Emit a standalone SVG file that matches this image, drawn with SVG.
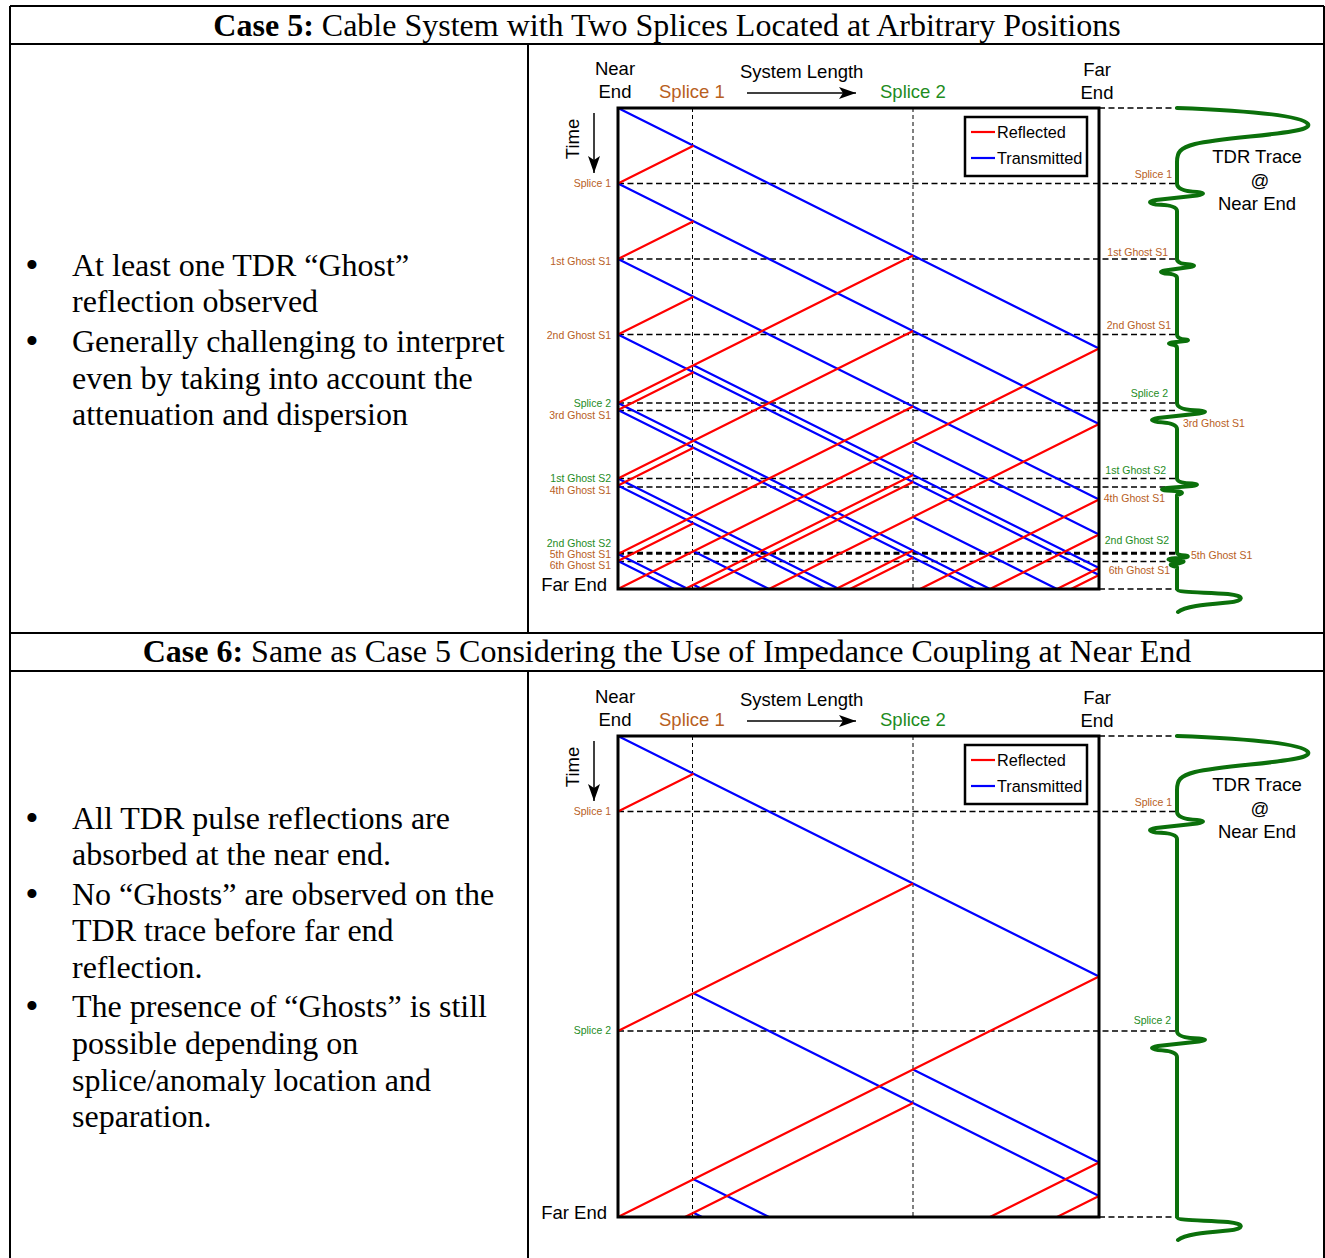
<svg xmlns="http://www.w3.org/2000/svg" width="1325" height="1258" viewBox="0 0 1325 1258">
<style>
.tb{stroke:#000;stroke-width:2;fill:none}
.serif{font-family:"Liberation Serif","Times New Roman",serif;font-size:32px;fill:#000}
.bul{font-size:38px}
.sans{font-family:"Liberation Sans",Arial,sans-serif;fill:#000}
.big{font-size:18.5px}
.leg{font-size:16.3px}
.sm{font-size:10.5px}
.br{fill:#B8601E}
.gr{fill:#1E8C1E}
.r{stroke:#f00;stroke-width:2.2;fill:none}
.b{stroke:#00f;stroke-width:2.2;fill:none}
.dh{stroke:#000;stroke-width:1.4;stroke-dasharray:6 3.5;fill:none}
.dv{stroke:#000;stroke-width:1;stroke-dasharray:4 3;fill:none}
.box{fill:none;stroke:#000;stroke-width:3}
.trace{fill:none;stroke:#0B700B;stroke-width:4;stroke-linejoin:round;stroke-linecap:round}
.ar{stroke:#000;stroke-width:1.5;fill:none}
</style>
<defs>
<marker id="ah" markerUnits="userSpaceOnUse" markerWidth="18" markerHeight="12" refX="17" refY="6" orient="auto">
<path d="M0,0 L17,6 L0,12 L4,6 z" fill="#000"/>
</marker>
</defs>

<g id="table">
<path class="tb" d="M10,6 H1324 M10,6 V1258 M1324,6 V1258 M10,44 H1324 M10,633 H1324 M10,671 H1324 M528,44 V633 M528,671 V1258"/>
<text class="serif" x="667" y="36" text-anchor="middle"><tspan font-weight="bold">Case 5:</tspan> Cable System with Two Splices Located at Arbitrary Positions</text>
<text class="serif" x="667" y="662" text-anchor="middle"><tspan font-weight="bold">Case 6:</tspan> Same as Case 5 Considering the Use of Impedance Coupling at Near End</text>
</g>

<g id="case5-text" class="serif">
<text class="bul" x="32" y="278" text-anchor="middle">•</text>
<text x="72" y="276">At least one TDR “Ghost”</text>
<text x="72" y="312">reflection observed</text>
<text class="bul" x="32" y="354" text-anchor="middle">•</text>
<text x="72" y="352">Generally challenging to interpret</text>
<text x="72" y="389">even by taking into account the</text>
<text x="72" y="425">attenuation and dispersion</text>
</g>

<g id="case6-text" class="serif">
<text class="bul" x="32" y="831" text-anchor="middle">•</text>
<text x="72" y="829">All TDR pulse reflections are</text>
<text x="72" y="865">absorbed at the near end.</text>
<text class="bul" x="32" y="907" text-anchor="middle">•</text>
<text x="72" y="905">No “Ghosts” are observed on the</text>
<text x="72" y="941">TDR trace before far end</text>
<text x="72" y="978">reflection.</text>
<text class="bul" x="32" y="1019" text-anchor="middle">•</text>
<text x="72" y="1017">The presence of “Ghosts” is still</text>
<text x="72" y="1054">possible depending on</text>
<text x="72" y="1091">splice/anomaly location and</text>
<text x="72" y="1127">separation.</text>
</g>

<!-- ===== CASE 5 DIAGRAM ===== -->
<g id="case5-header" class="sans big">
<text x="615" y="75" text-anchor="middle">Near</text>
<text x="615" y="98" text-anchor="middle">End</text>
<text x="659" y="98" class="br">Splice 1</text>
<text x="740" y="78">System Length</text>
<text x="880" y="98" class="gr">Splice 2</text>
<text x="1097" y="76" text-anchor="middle">Far</text>
<text x="1097" y="99" text-anchor="middle">End</text>
<text transform="translate(579,139) rotate(-90)" text-anchor="middle">Time</text>
<text x="607" y="591" text-anchor="end">Far End</text>
</g>
<g id="case5-arrows">
<line class="ar" x1="747" y1="93" x2="856" y2="93" marker-end="url(#ah)"/>
<line class="ar" x1="594" y1="113" x2="594" y2="173" marker-end="url(#ah)"/>
</g>

<g id="case5-guides">
<line class="dv" x1="692.5" y1="108" x2="692.5" y2="589"/>
<line class="dv" x1="913" y1="108" x2="913" y2="589"/>
<path class="dh" d="M1099,108 H1177 M618,183.5 H1177 M618,259 H1177 M618,334.5 H1177 M618,403 H1177 M618,410.5 H1177 M618,478.5 H1177 M618,487 H1177 M618,552.5 H1177 M618,554 H1177 M618,561.5 H1177 M1099,589 H1177"/>
</g>

<g id="case5-connectors">
<path class="b" d="M618,108 L1099,348.5 M618,183.5 L1099,424 M618,259 L1099,499.5 M618,334.5 L1099,575 M693.5,365.25 L1099,568 M913,441.5 L1099,534.5 M618,403 L990,589 M618,410 L976,589 M913,517 L1057,589 M618,478.5 L839,589 M618,485.5 L825,589 M693.5,551.25 L769,589 M693.5,584.75 L702,589 M618,554 L688,589 M618,561 L674,589"/>
<path class="r" d="M693.5,145.75 L618,183.5 M693.5,221.25 L618,259 M693.5,296.75 L618,334.5 M913,255.5 L618,403 M1099,348.5 L618,589 M693.5,372.25 L618,410 M913,331 L618,478.5 M913,406.5 L618,554 M1099,424 L769,589 M913,475 L685,589 M913,482 L699,589 M693.5,447.75 L618,485.5 M913,550.5 L836,589 M913,557.5 L850,589 M1099,499.5 L920,589 M1099,534.5 L990,589 M1099,568 L1057,589 M1099,575 L1071,589 M693.5,523.25 L618,561"/>
</g>
<rect id="case5-box" class="box" x="618" y="108" width="481" height="481"/>

<g id="case5-legend">
<rect x="965" y="117" width="122" height="59" fill="#fff" stroke="#000" stroke-width="2.5"/>
<line x1="971" y1="132" x2="995" y2="132" stroke="#f00" stroke-width="2.2"/>
<line x1="971" y1="158" x2="995" y2="158" stroke="#00f" stroke-width="2.2"/>
<text class="sans leg" x="997" y="138">Reflected</text>
<text class="sans leg" x="997" y="164">Transmitted</text>
</g>

<g id="case5-left-labels" class="sans sm" text-anchor="end">
<text x="611" y="187" class="br">Splice 1</text>
<text x="611" y="265" class="br">1st Ghost S1</text>
<text x="611" y="339" class="br">2nd Ghost S1</text>
<text x="611" y="407" class="gr">Splice 2</text>
<text x="611" y="419" class="br">3rd Ghost S1</text>
<text x="611" y="482" class="gr">1st Ghost S2</text>
<text x="611" y="494" class="br">4th Ghost S1</text>
<text x="611" y="547" class="gr">2nd Ghost S2</text>
<text x="611" y="558" class="br">5th Ghost S1</text>
<text x="611" y="569" class="br">6th Ghost S1</text>
</g>

<g id="case5-right-labels" class="sans sm">
<text x="1172" y="178" text-anchor="end" class="br">Splice 1</text>
<text x="1168" y="256" text-anchor="end" class="br">1st Ghost S1</text>
<text x="1171" y="329" text-anchor="end" class="br">2nd Ghost S1</text>
<text x="1168" y="397" text-anchor="end" class="gr">Splice 2</text>
<text x="1183" y="427" class="br">3rd Ghost S1</text>
<text x="1166" y="474" text-anchor="end" class="gr">1st Ghost S2</text>
<text x="1165" y="502" text-anchor="end" class="br">4th Ghost S1</text>
<text x="1169" y="544" text-anchor="end" class="gr">2nd Ghost S2</text>
<text x="1191" y="559" class="br">5th Ghost S1</text>
<text x="1170" y="574" text-anchor="end" class="br">6th Ghost S1</text>
</g>

<g id="case5-trace">
<path class="trace" d="M1177,108 C1230,110 1300,114 1308,124 C1314,134 1230,136 1195,144 C1180,148 1177,152 1177,162 L1177,183.5 Q1177,191 1197,192 Q1209,193 1197,195.5 L1156,200 Q1144,202 1156,204.5 Q1177,205 1177,211 L1177,259 Q1177,264 1190,264.5 Q1198,265.5 1190,267 L1165,270.5 Q1157,272 1165,273.5 Q1177,274 1177,278 L1177,334.5 Q1177,339 1185,339.5 Q1191,340 1185,341 L1172,342.5 Q1166,343.5 1172,344.5 Q1177,345 1177,348 L1177,403 Q1177,410 1199,410.5 Q1211,411.5 1199,413.5 L1158,418 Q1146,420 1158,422 Q1177,423 1177,429 L1177,478.5 Q1177,483 1192,483.5 Q1202,484.5 1192,486 L1167,488 Q1157,489.5 1167,490.5 Q1177,491 1181,492 Q1184,493.5 1177,495 L1177,553 Q1177,555 1185,555.5 Q1191,556.5 1184,557.5 L1172,558.5 Q1165,559.5 1172,560 Q1186,560.5 1183,562 Q1180,563.5 1172,564 Q1168,565 1177,567 L1177,589 C1177,593 1205,592 1228,594 C1246,596 1244,601 1228,602.5 C1205,604.5 1185,606 1178,612"/>
<text class="sans big" x="1257" y="163" text-anchor="middle">TDR Trace</text>
<text class="sans big" x="1260" y="187" text-anchor="middle">@</text>
<text class="sans big" x="1257" y="210" text-anchor="middle">Near End</text>
</g>

<!-- ===== CASE 6 DIAGRAM ===== -->
<g id="case6-header" class="sans big">
<text x="615" y="703" text-anchor="middle">Near</text>
<text x="615" y="726" text-anchor="middle">End</text>
<text x="659" y="726" class="br">Splice 1</text>
<text x="740" y="706">System Length</text>
<text x="880" y="726" class="gr">Splice 2</text>
<text x="1097" y="704" text-anchor="middle">Far</text>
<text x="1097" y="727" text-anchor="middle">End</text>
<text transform="translate(579,767) rotate(-90)" text-anchor="middle">Time</text>
<text x="607" y="1219" text-anchor="end">Far End</text>
</g>
<g id="case6-arrows">
<line class="ar" x1="747" y1="721" x2="856" y2="721" marker-end="url(#ah)"/>
<line class="ar" x1="594" y1="741" x2="594" y2="801" marker-end="url(#ah)"/>
</g>

<g id="case6-guides">
<line class="dv" x1="692.5" y1="736" x2="692.5" y2="1217"/>
<line class="dv" x1="913" y1="736" x2="913" y2="1217"/>
<path class="dh" d="M1099,736 H1177 M618,811.5 H1177 M618,1031 H1177 M1099,1217 H1177"/>
</g>

<g id="case6-connectors">
<path class="b" d="M618,736 L1099,976.5 M693.5,993.25 L1099,1196 M913,1069.5 L1099,1162.5 M693.5,1179.25 L769,1217 M693.5,1212.75 L702,1217"/>
<path class="r" d="M693.5,773.75 L618,811.5 M913,883.5 L618,1031 M1099,976.5 L618,1217 M913,1103 L685,1217 M1099,1162.5 L990,1217 M1099,1196 L1057,1217"/>
</g>
<rect id="case6-box" class="box" x="618" y="736" width="481" height="481"/>

<g id="case6-legend">
<rect x="965" y="745" width="122" height="59" fill="#fff" stroke="#000" stroke-width="2.5"/>
<line x1="971" y1="760" x2="995" y2="760" stroke="#f00" stroke-width="2.2"/>
<line x1="971" y1="786" x2="995" y2="786" stroke="#00f" stroke-width="2.2"/>
<text class="sans leg" x="997" y="766">Reflected</text>
<text class="sans leg" x="997" y="792">Transmitted</text>
</g>

<g id="case6-labels" class="sans sm">
<text x="611" y="815" text-anchor="end" class="br">Splice 1</text>
<text x="611" y="1034" text-anchor="end" class="gr">Splice 2</text>
<text x="1172" y="806" text-anchor="end" class="br">Splice 1</text>
<text x="1171" y="1024" text-anchor="end" class="gr">Splice 2</text>
</g>

<g id="case6-trace">
<path class="trace" d="M1177,736 C1230,738 1300,742 1308,752 C1314,762 1230,764 1195,772 C1180,776 1177,780 1177,790 L1177,811.5 Q1177,819 1197,820 Q1209,821 1197,823.5 L1156,828 Q1144,830 1156,832.5 Q1177,833 1177,839 L1177,1031 Q1177,1038 1199,1038.5 Q1211,1039.5 1199,1041.5 L1158,1046 Q1146,1048 1158,1050 Q1177,1051 1177,1057 L1177,1217 C1177,1221 1205,1220 1228,1222 C1246,1224 1244,1229 1228,1230.5 C1205,1232.5 1185,1234 1178,1240"/>
<text class="sans big" x="1257" y="791" text-anchor="middle">TDR Trace</text>
<text class="sans big" x="1260" y="815" text-anchor="middle">@</text>
<text class="sans big" x="1257" y="838" text-anchor="middle">Near End</text>
</g>
</svg>
